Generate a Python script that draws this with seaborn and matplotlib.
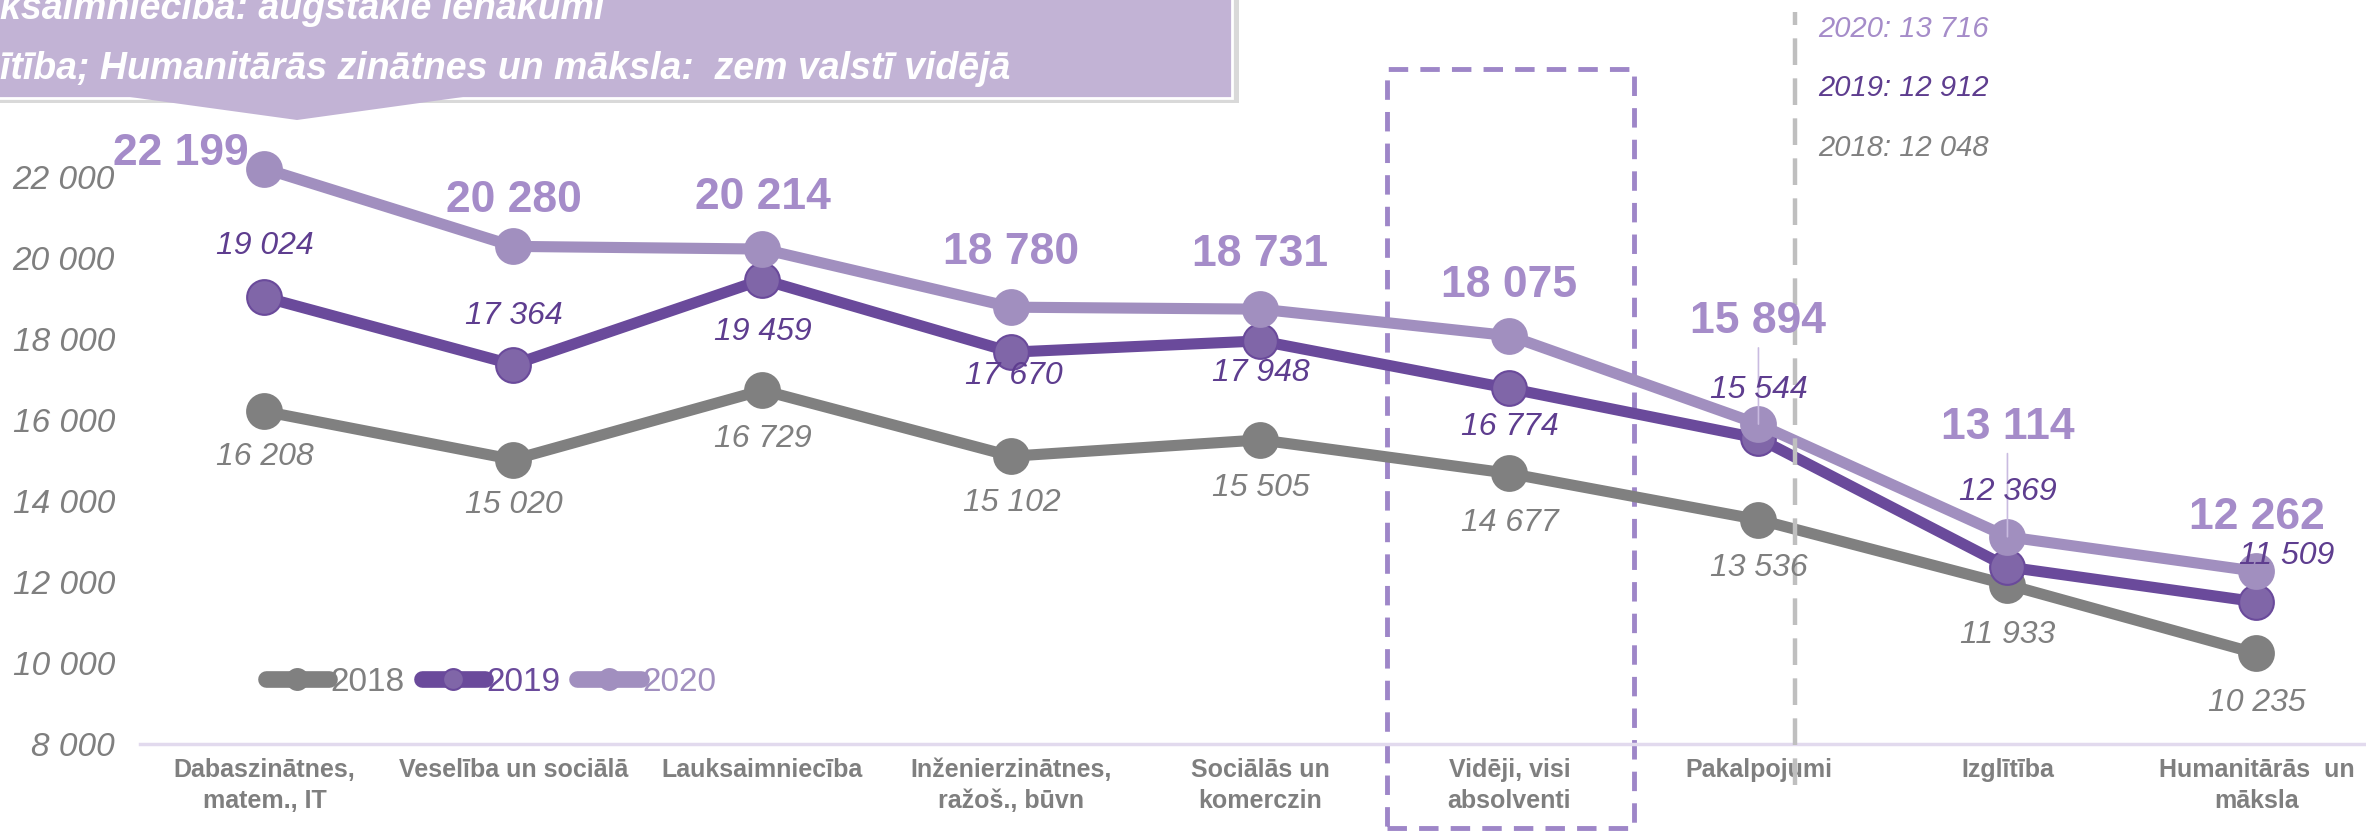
import pandas as pd
import numpy as np
import matplotlib
matplotlib.use("Agg")
import matplotlib.pyplot as plt
import matplotlib.ticker as ticker
import matplotlib.patches as patches
import seaborn as sns

# data
categories = ['Dabaszinātnes,\nmatem., IT', 'Veselība un sociālā', 'Lauksaimniecība',
              'Inženierzinātnes,\nražoš., būvn', 'Sociālās un\nkomerczin', 'Vidēji, visi\nabsolventi',
              'Pakalpojumi', 'Izglītība', 'Humanitārās  un\nmāksla']
years = ['2018', '2019', '2020']
vals_2018 = [16208, 15020, 16729, 15102, 15505, 14677, 13536, 11933, 10235]
vals_2019 = [19024, 17364, 19459, 17670, 17948, 16774, 15544, 12369, 11509]
vals_2020 = [22199, 20280, 20214, 18780, 18731, 18075, 15894, 13114, 12262]
avg_lines = ['2020: 13 716', '2019: 12 912', '2018: 12 048']
callout_lines = ['ksaimniecība: augstākie ienākumi',
                 'ītība; Humanitārās zinātnes un māksla:  zem valstī vidējā']

df = pd.DataFrame({'pos': list(range(len(categories))) * 3,
                   'value': vals_2018 + vals_2019 + vals_2020,
                   'year': np.repeat(years, len(categories))})

sns.set_style('white')
plt.rcParams['font.family'] = ['Liberation Sans', 'DejaVu Sans']

W, H = 2366, 835
fig = plt.figure(figsize=(W / 100, H / 100), dpi=100)
ax = fig.add_axes([140 / W, 91 / H, (W - 140) / W, 744 / H])

c18, c19, c20 = '#808080', '#6A4A9B', '#A18FBF'
styles = {
    '2018': dict(color=c18, mfc=c18, mec=c18, zorder=3),
    '2019': dict(color=c19, mfc='#8066A8', mec=c19, zorder=4),
    '2020': dict(color=c20, mfc=c20, mec=c20, zorder=5),
}
for yr in years:
    s = styles[yr]
    sns.lineplot(data=df[df['year'] == yr], x='pos', y='value', ax=ax,
                 color=s['color'], linewidth=8, marker='o', markersize=25,
                 markerfacecolor=s['mfc'], markeredgecolor=s['mec'],
                 markeredgewidth=1.5, label=yr, zorder=s['zorder'])

ax.set_xlim(-0.5, 8.44)
ax.set_ylim(8000, 26360)
ax.set_yticks(range(8000, 22001, 2000))
ax.yaxis.set_major_formatter(ticker.FuncFormatter(lambda v, _: f'{v:,.0f}'.replace(',', ' ')))
ax.set_xticks(range(len(categories)))
ax.set_xticklabels(categories, fontweight='bold', fontsize=18, color='#7F7F7F', linespacing=1.4)
ax.set_xticks(np.arange(-0.5, 8.5, 1), minor=True)
ax.tick_params(axis='x', which='major', length=0, pad=10)
ax.tick_params(axis='x', which='minor', length=10, color='#E2DAEE', width=2)
ax.tick_params(axis='y', length=0, pad=18, labelsize=24, labelcolor='#7F7F7F')
for t in ax.get_yticklabels():
    t.set_fontstyle('italic')
ax.set_xlabel('')
ax.set_ylabel('')
for sp in ['top', 'right', 'left']:
    ax.spines[sp].set_visible(False)
ax.spines['bottom'].set_color('#E2DAEE')
ax.spines['bottom'].set_linewidth(2.5)

# value labels (offsets in points)
off20 = [(-60, 11), (0, 33), (0, 37), (0, 39), (0, 39), (0, 36), (0, 74), (0, 79), (0, 39)]
off19 = [(0, 37), (0, 35), (0, -38), (2, -17), (0, -23), (0, -28), (0, 35), (0, 54), (22, 33)]
off18 = [(0, -33), (0, -33), (0, -35), (0, -34), (0, -35), (0, -36), (0, -35), (0, -36), (0, -36)]
fmt = lambda v: f'{v:,.0f}'.replace(',', ' ')
for i, v in enumerate(vals_2020):
    arrow = None
    if i in (6, 7):
        arrow = dict(arrowstyle='-', color='#C9BBE0', lw=1.2, shrinkA=2, shrinkB=0)
    ax.annotate(fmt(v), (i, v), xytext=off20[i], textcoords='offset points',
                ha='center', va='center', fontsize=32, fontweight='bold', color='#A58CC9',
                arrowprops=arrow, zorder=8)
for i, v in enumerate(vals_2019):
    ax.annotate(fmt(v), (i, v), xytext=off19[i], textcoords='offset points',
                ha='center', va='center', fontsize=23, fontstyle='italic', color='#5E3D8F', zorder=8)
for i, v in enumerate(vals_2018):
    ax.annotate(fmt(v), (i, v), xytext=off18[i], textcoords='offset points',
                ha='center', va='center', fontsize=23, fontstyle='italic', color='#7F7F7F', zorder=8)

# dashed highlight box around the average column
rect = patches.Rectangle((4.51, 5926), 0.99, 24667 - 5926, fill=False,
                         edgecolor='#9E86C8', linewidth=3.5, linestyle=(0, (4, 2.5)),
                         clip_on=False, zorder=2)
ax.add_patch(rect)

# national average marker line
ax.plot([6.145, 6.145], [6988, 26074], color='#BFBFBF', linewidth=3.2,
        linestyle=(0, (6, 3)), clip_on=False, zorder=6)
for txt, col, py in zip(avg_lines, ['#A58CC9', '#5E3D8F', '#808080'], [29, 88, 148]):
    fig.text(1818 / W, 1 - py / H, txt, fontsize=21, fontstyle='italic', color=col,
             ha='left', va='center')

# legend
leg = ax.legend(loc='center left', bbox_to_anchor=(0.043, 0.083), frameon=False,
                ncol=3, fontsize=24, handlelength=1.9, handletextpad=0.05,
                columnspacing=0.5, labelcolor='linecolor', markerscale=0.6)
for h in leg.legend_handles:
    h.set_linewidth(12)

# callout box at top
shadow = patches.Rectangle((-10 / W, 1 - 103 / H), 1249 / W, 130 / H, transform=fig.transFigure,
                           facecolor='#A0A0A0', alpha=0.4, edgecolor='none', zorder=0)
box = patches.Rectangle((-10 / W, 1 - 98 / H), 1242 / W, 120 / H, transform=fig.transFigure,
                        facecolor='#C2B3D5', edgecolor='white', linewidth=2, zorder=1)
tab = patches.Polygon([(130 / W, 1 - 97 / H), (297 / W, 1 - 120 / H), (463 / W, 1 - 97 / H)],
                      closed=True, transform=fig.transFigure, facecolor='#C2B3D5',
                      edgecolor='none', zorder=1)
fig.patches.extend([shadow, box, tab])
fig.text(0, 1 - 9 / H, callout_lines[0], fontsize=27, fontweight='bold', fontstyle='italic',
         color='white', ha='left', va='center', zorder=3)
fig.text(0, 1 - 69 / H, callout_lines[1], fontsize=27, fontweight='bold', fontstyle='italic',
         color='white', ha='left', va='center', zorder=3)

fig.savefig('out.png', dpi=100)
